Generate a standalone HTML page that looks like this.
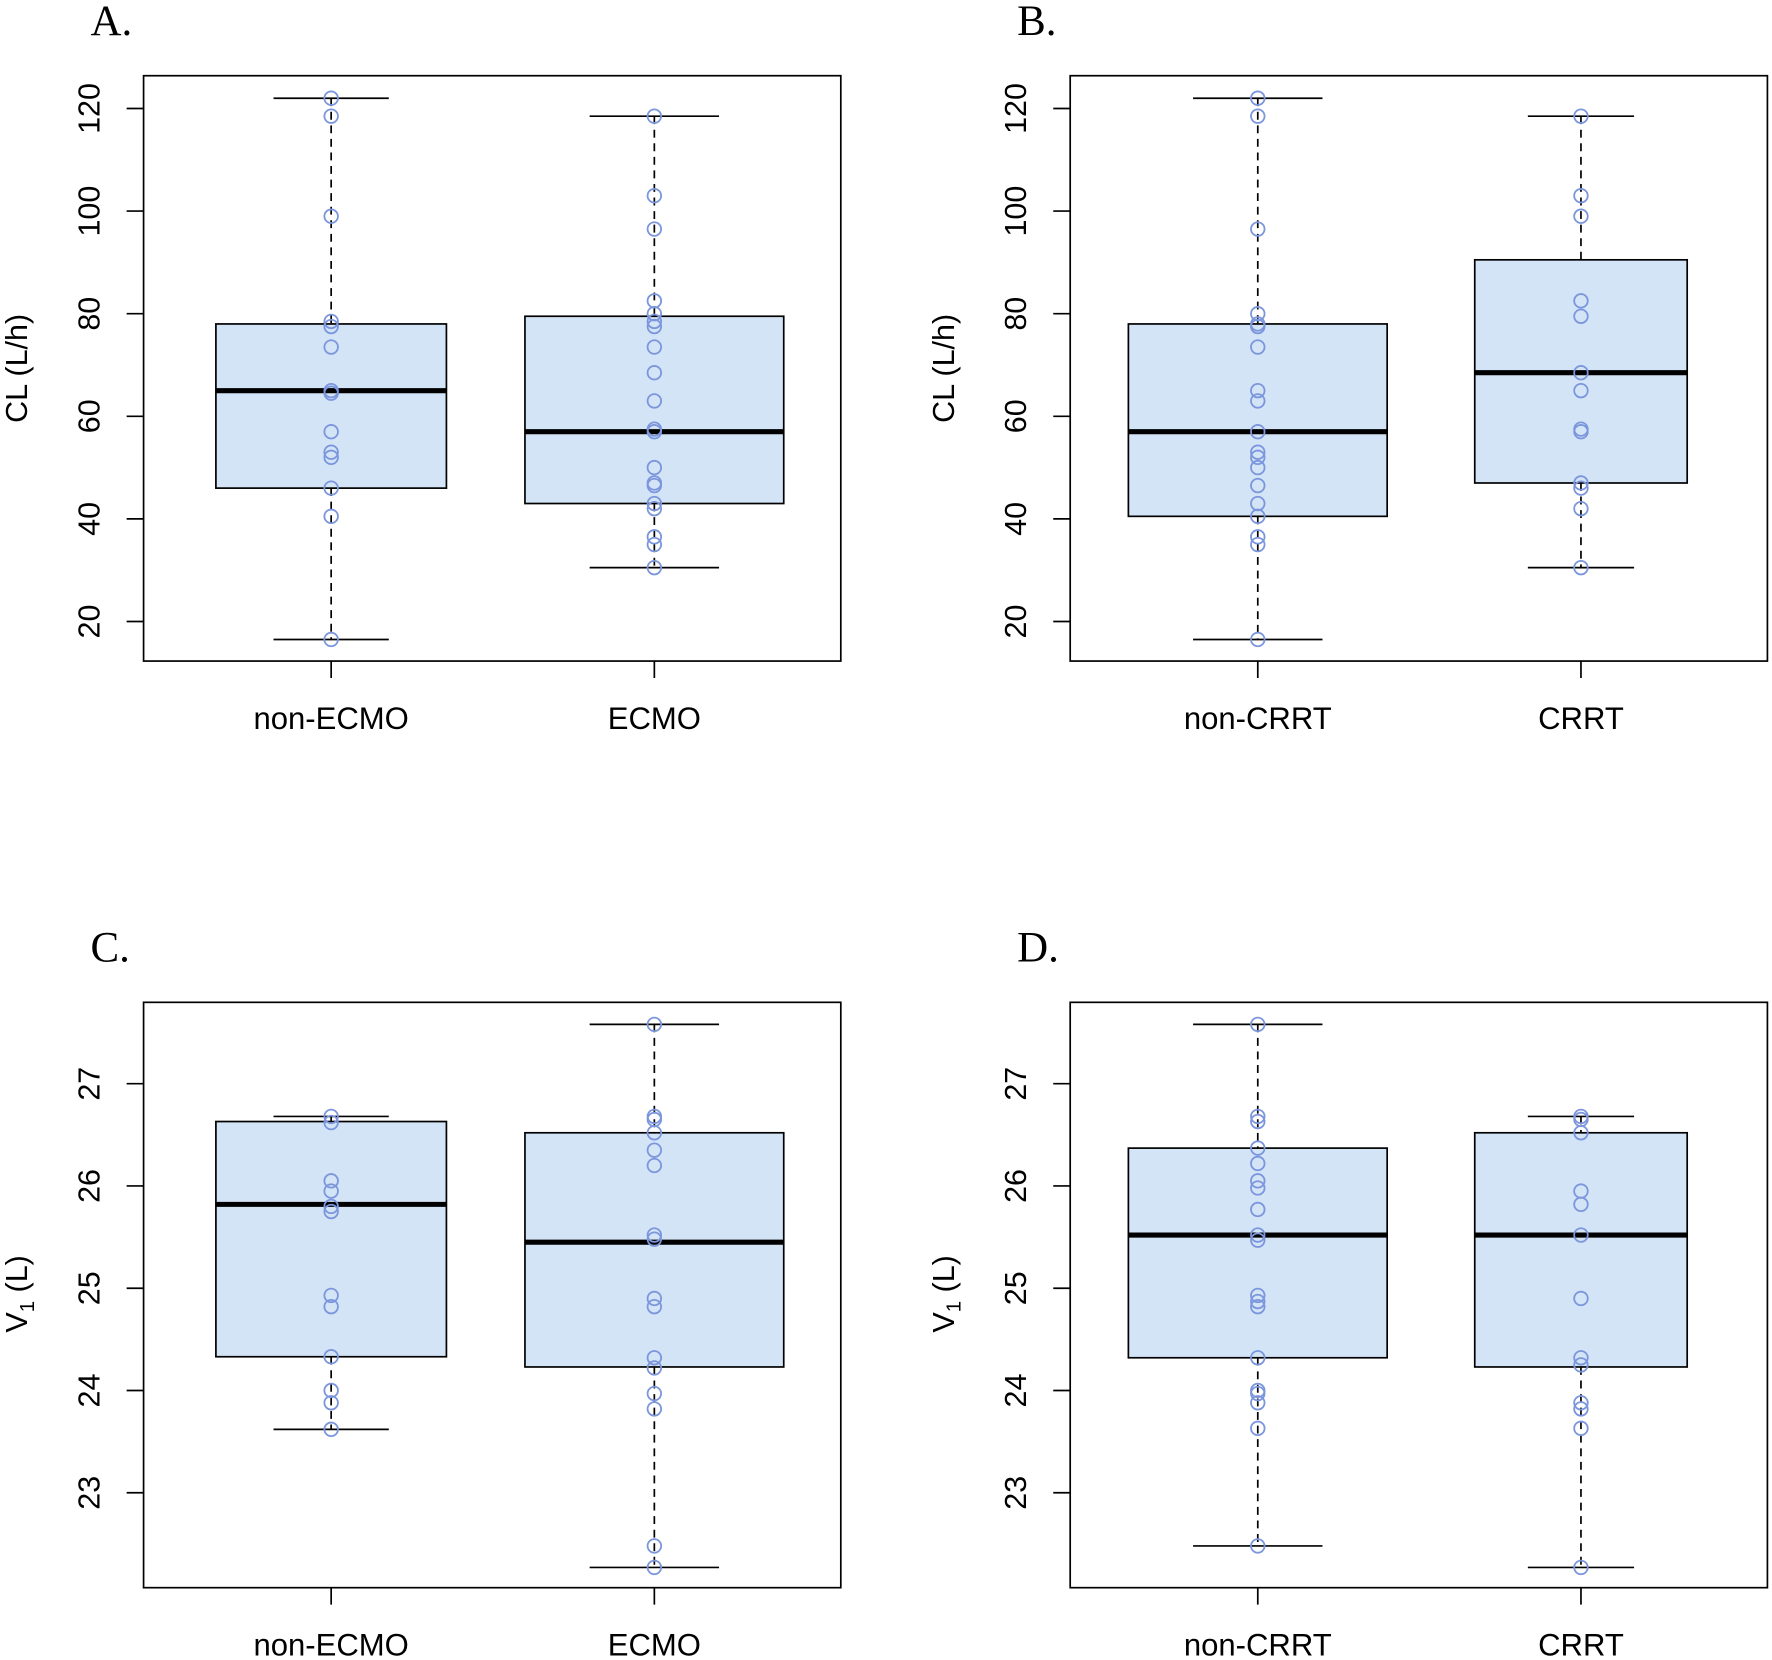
<!DOCTYPE html>
<html><head><meta charset="utf-8"><style>
html,body{margin:0;padding:0;background:#fff}
svg{display:block}
text{font-family:"Liberation Sans",sans-serif;fill:#000}
.lt{font-family:"Liberation Serif",serif}
</style></head><body>
<svg id="fig" width="1772" height="1660" viewBox="0 0 1568 1469" xmlns="http://www.w3.org/2000/svg"></svg>
<script>
const panelLetters=["A.","B.","C.","D."];
const groupLabels=[["non-ECMO","ECMO"],["non-CRRT","CRRT"],["non-ECMO","ECMO"],["non-CRRT","CRRT"]];
const clTicks=[20,40,60,80,100,120];
const v1Ticks=[23,24,25,26,27];
// box stats: [whiskerLow, Q1, median, Q3, whiskerHigh]
const statsA=[[16.5,46,65,78,122],[30.5,43,57,79.5,118.5]];
const statsB=[[16.5,40.5,57,78,122],[30.5,47,68.5,90.5,118.5]];
const statsC=[[23.62,24.33,25.82,26.63,26.68],[22.27,24.23,25.45,26.52,27.58]];
const statsD=[[22.48,24.32,25.52,26.37,27.58],[22.27,24.23,25.52,26.52,26.68]];
const ptsA=[[122,118.5,99,78.5,77.5,73.5,65,64.5,57,53,52,46,40.5,16.5],[118.5,103,96.5,82.5,80,78.5,77.5,73.5,68.5,63,57.5,57,50,47,46.5,43,42,36.5,35,30.5]];
const ptsB=[[122,118.5,96.5,80,78,77.5,73.5,65,63,57,53,52,50,46.5,43,40.5,36.5,35,16.5],[118.5,103,99,82.5,79.5,68.5,65,57.5,57,47,46,42,30.5]];
const ptsC=[[26.68,26.62,26.05,25.95,25.8,25.75,24.93,24.82,24.33,24.0,23.88,23.62],[27.58,26.68,26.65,26.52,26.35,26.2,25.52,25.48,24.9,24.82,24.32,24.22,23.97,23.82,22.48,22.27]];
const ptsD=[[27.58,26.68,26.63,26.37,26.22,26.05,25.98,25.77,25.52,25.47,24.93,24.87,24.82,24.32,24.0,23.97,23.88,23.63,22.48],[26.68,26.65,26.52,25.95,25.82,25.52,24.9,24.32,24.25,23.88,23.82,23.63,22.27]];

const NS="http://www.w3.org/2000/svg";
const svg=document.getElementById('fig');
function mk(tag,attrs,parent,txt){const e=document.createElementNS(NS,tag);for(const k in attrs)e.setAttribute(k,attrs[k]);if(txt!==undefined)e.textContent=txt;(parent||svg).appendChild(e);return e;}

const panels=[
 {ox:0,oy:0,stats:statsA,pts:ptsA,hw:[102,114.5],ticks:clTicks,y:v=>96+(120-v)*4.54,title:"CL (L/h)",v1:false},
 {ox:820,oy:0,stats:statsB,pts:ptsB,hw:[114.5,94],ticks:clTicks,y:v=>96+(120-v)*4.54,title:"CL (L/h)",v1:false},
 {ox:0,oy:820,stats:statsC,pts:ptsC,hw:[102,114.5],ticks:v1Ticks,y:v=>959+(27-v)*90.5,title:"V1",v1:true},
 {ox:820,oy:820,stats:statsD,pts:ptsD,hw:[114.5,94],ticks:v1Ticks,y:v=>959+(27-v)*90.5,title:"V1",v1:true}
];
panels.forEach((p,pi)=>{
 const g=mk('g',{});
 
 
 const ox=p.ox, top=67+p.oy, bot=585+p.oy;
 const lt=mk('text',{x:80+ox,y:31+p.oy,'font-size':38,class:'lt'},g,panelLetters[pi]);
 
 
 const cx=[293+ox,579+ox];
 p.stats.forEach((s,i)=>{
  const x=cx[i], hw=p.hw[i], cw=hw/2;
  const bg=mk('g',{},g);
  
  
  mk('line',{x1:x,x2:x,y1:p.y(s[4]),y2:p.y(s[3]),stroke:'#000','stroke-width':1.5,'stroke-dasharray':'7,5'},bg);
  mk('line',{x1:x,x2:x,y1:p.y(s[1]),y2:p.y(s[0]),stroke:'#000','stroke-width':1.5,'stroke-dasharray':'7,5'},bg);
  mk('line',{x1:x-cw,x2:x+cw,y1:p.y(s[4]),y2:p.y(s[4]),stroke:'#000','stroke-width':1.5},bg);
  mk('line',{x1:x-cw,x2:x+cw,y1:p.y(s[0]),y2:p.y(s[0]),stroke:'#000','stroke-width':1.5},bg);
  mk('rect',{x:x-hw,y:p.y(s[3]),width:2*hw,height:p.y(s[1])-p.y(s[3]),fill:'#d4e4f7',stroke:'#000','stroke-width':1.5},bg);
  mk('line',{x1:x-hw,x2:x+hw,y1:p.y(s[2]),y2:p.y(s[2]),stroke:'#000','stroke-width':4.5},bg);
  p.pts[i].forEach(v=>{
   const c=mk('circle',{cx:x,cy:p.y(v),r:6,fill:'none',stroke:'#7b96dc','stroke-width':1.6},bg);
   
   
  });
  mk('line',{x1:x,x2:x,y1:bot,y2:bot+15,stroke:'#000','stroke-width':1.5},g);
  const xl=mk('text',{x:x,y:bot+60,'font-size':27.5,'text-anchor':'middle'},g,groupLabels[pi][i]);
  
  
 });
 const fr=mk('rect',{x:127+ox,y:top,width:617,height:bot-top,fill:'none',stroke:'#000','stroke-width':1.5},g);
 
 
 p.ticks.forEach(t=>{
  const y=p.y(t);
  mk('line',{x1:127+ox-15,x2:127+ox,y1:y,y2:y,stroke:'#000','stroke-width':1.5},g);
  const tl=mk('text',{x:0,y:0,'font-size':27,'text-anchor':'middle',transform:`translate(${88+ox},${y}) rotate(-90)`},g,String(t));
  
  
 });
 const cy=p.v1?1145:326;
 const yt=mk('text',{x:0,y:0,'font-size':27,'text-anchor':'middle',transform:`translate(${24+ox},${cy}) rotate(-90)`},g);
 
 
 if(p.v1){mk('tspan',{},yt,'V');mk('tspan',{'font-size':18,dy:6},yt,'1');mk('tspan',{dy:-6},yt,' (L)');}
 else yt.textContent=p.title;
});
</script>
</body></html>
